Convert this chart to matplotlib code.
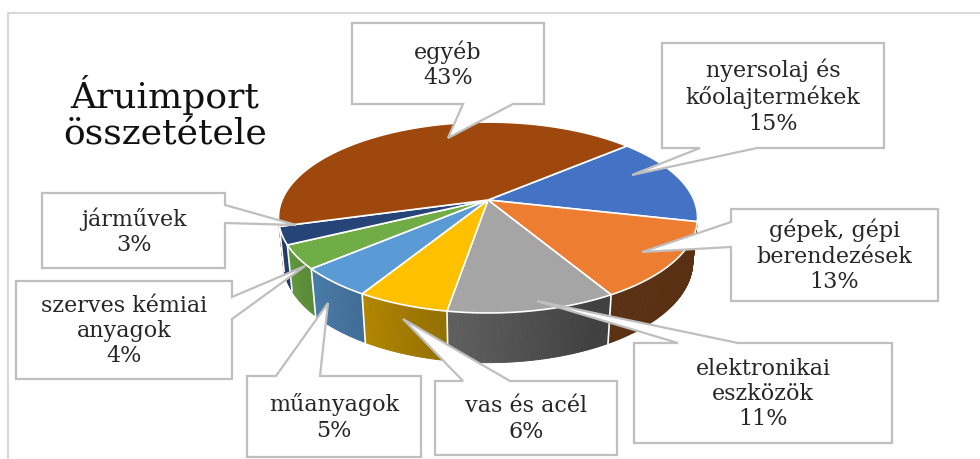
import numpy as np
import matplotlib
matplotlib.use('Agg')
import matplotlib.pyplot as plt
from matplotlib.patches import Polygon

# data (order = Excel series order, clockwise)
categories = ['nyersolaj és\nkőolajtermékek', 'gépek, gépi\nberendezések',
              'elektronikai\neszközök', 'vas és acél', 'műanyagok',
              'szerves kémiai\nanyagok', 'járművek', 'egyéb']
shares = [15, 13, 11, 6, 5, 4, 3, 43]
colors = ['#4472C4', '#ED7D31', '#A5A5A5', '#FFC000', '#5B9BD5',
          '#70AD47', '#264478', '#9E480E']
title = 'Áruimport\nösszetétele'

# callout boxes: (x0, y0, x1, y1, side of pointer, base a, base b, tip)
callouts = [
    (662, 43, 884, 148, 'bottom', 700, 757, (632, 175)),
    (731, 209, 938, 301, 'left', 222, 247, (642, 252)),
    (634, 343, 892, 443, 'top', 678, 738, (537, 301)),
    (435, 381, 617, 455, 'top', 463, 510, (403, 319)),
    (247, 376, 421, 457, 'top', 276, 320, (328, 303)),
    (16, 281, 232, 379, 'right', 297, 319, (305, 266)),
    (42, 193, 225, 268, 'right', 205, 223, (296, 225)),
    (352, 23, 544, 104, 'bottom', 463, 513, (448, 138)),
]

# 3d pie camera (pixel space, y down)
cx, cy = 488, 200
theta = np.radians(26.6)
D = 4.87
f = 1003
h = 0.24
start = 49.0
ct, st = np.cos(theta), np.sin(theta)


def proj(phi_deg, r=1.0, z=0.0):
    p = np.radians(phi_deg)
    x, y = r * np.sin(p), r * np.cos(p)
    dist = D + y * ct - z * st
    return cx + f * x / dist, cy - f * (y * st + z * ct) / dist


def shade(color, k):
    rgb = np.array(matplotlib.colors.to_rgb(color))
    return tuple(rgb * k)


def callout_poly(x0, y0, x1, y1, side, a, b, tip):
    if side == 'bottom':
        return [(x0, y0), (x1, y0), (x1, y1), (b, y1), tip, (a, y1), (x0, y1)]
    if side == 'top':
        return [(x0, y0), (a, y0), tip, (b, y0), (x1, y0), (x1, y1), (x0, y1)]
    if side == 'left':
        return [(x0, y0), (x1, y0), (x1, y1), (x0, y1), (x0, b), tip, (x0, a)]
    return [(x0, y0), (x1, y0), (x1, a), tip, (x1, b), (x1, y1), (x0, y1)]


fig = plt.figure(figsize=(9.8, 4.59), dpi=100)
ax = fig.add_axes([0, 0, 1, 1])
ax.set_xlim(0, 980)
ax.set_ylim(459, 0)
ax.axis('off')

# chart frame (only top and left visible)
ax.plot([8, 8, 980], [459, 13, 13], color='#d9d9d9', lw=1.5, zorder=1)

angles = start + 360 * np.cumsum([0] + shares) / sum(shares)
limit = -1 / (D * ct)

# side walls
for i, col in enumerate(colors):
    a0, a1 = angles[i], angles[i + 1]
    steps = np.linspace(a0, a1, int((a1 - a0) * 2) + 2)
    for p0, p1 in zip(steps[:-1], steps[1:]):
        pm = (p0 + p1) / 2
        if np.cos(np.radians(pm)) >= limit:
            continue
        ang = pm % 360
        k = np.clip(0.36 + (ang - 150) * 0.0055, 0.38, 0.9)
        c = shade(col, k)
        quad = [proj(p0), proj(p1), proj(p1, z=-h), proj(p0, z=-h)]
        ax.add_patch(Polygon(quad, closed=True, fc=c, ec=c, lw=0.6, zorder=2))
    if np.cos(np.radians(a0)) < limit:
        xs, ys = zip(proj(a0), proj(a0, z=-h))
        ax.plot(xs, ys, color='white', lw=1.2, zorder=2.5)

# top faces
for i, col in enumerate(colors):
    a0, a1 = angles[i], angles[i + 1]
    steps = np.linspace(a0, a1, int((a1 - a0) * 2) + 2)
    pts = [(cx, cy)] + [proj(p) for p in steps]
    ax.add_patch(Polygon(pts, closed=True, fc=col, ec='white', lw=1.2,
                         joinstyle='round', zorder=3))

# callout labels
for (x0, y0, x1, y1, side, a, b, tip), name, v in zip(callouts, categories, shares):
    poly = callout_poly(x0, y0, x1, y1, side, a, b, tip)
    ax.add_patch(Polygon(poly, closed=True, fc='white', ec='#bfbfbf',
                         lw=1.6, zorder=4))
    ax.text((x0 + x1) / 2, (y0 + y1) / 2 + 1, f'{name}\n{v}%',
            ha='center', va='center', fontsize=16, family='DejaVu Serif',
            color='#262626', linespacing=1.2, zorder=5)

ax.text(165, 113, title, ha='center', va='center', fontsize=26,
        family='DejaVu Serif', color='#111111', linespacing=1.1, zorder=5)

fig.savefig('out.png', dpi=100)
